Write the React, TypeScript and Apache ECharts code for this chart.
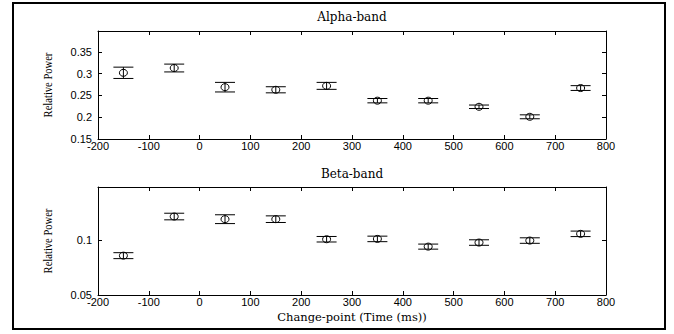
import React, { useEffect, useRef } from "react";
import * as echarts from "echarts";

const timePoints = [-150, -50, 50, 150, 250, 350, 450, 550, 650, 750];
const alphaMean = [0.302, 0.313, 0.269, 0.263, 0.272, 0.238, 0.238, 0.224, 0.201, 0.267];
const alphaErr = [0.013, 0.009, 0.011, 0.007, 0.008, 0.005, 0.005, 0.004, 0.0045, 0.0055];
const betaMean = [0.0857, 0.1212, 0.1188, 0.1188, 0.1006, 0.1009, 0.0939, 0.0976, 0.0994, 0.1055];
const betaErr = [0.0027, 0.003, 0.004, 0.003, 0.0025, 0.0025, 0.0023, 0.0025, 0.0025, 0.0025];
const alphaTicks = [0.15, 0.2, 0.25, 0.3, 0.35];
const betaTicks = [0.05, 0.1];
const xTicks = [-200, -100, 0, 100, 200, 300, 400, 500, 600, 700, 800];

const SANS = "'Liberation Sans', Arial, sans-serif";
const SERIF = "'DejaVu Serif', serif";
const TSERIF = "'Liberation Serif', 'Times New Roman', serif";

function errRender(params: any, api: any) {
  const x = api.value(0);
  const m = api.value(1);
  const e = api.value(2);
  const c = api.coord([x, m]);
  const hi = api.coord([x, m + e]);
  const lo = api.coord([x, m - e]);
  const hw = 10;
  const st = { stroke: "#000", lineWidth: 1, fill: null };
  return {
    type: "group",
    children: [
      { type: "line", shape: { x1: c[0], y1: hi[1], x2: c[0], y2: lo[1] }, style: st },
      { type: "line", shape: { x1: c[0] - hw, y1: hi[1], x2: c[0] + hw, y2: hi[1] }, style: st },
      { type: "line", shape: { x1: c[0] - hw, y1: lo[1], x2: c[0] + hw, y2: lo[1] }, style: st },
      { type: "ellipse", shape: { cx: c[0], cy: c[1], rx: 4, ry: 3.5 }, style: { stroke: "#000", lineWidth: 1, fill: "none" } },
    ],
  };
}

export default function App() {
  const ref = useRef<HTMLDivElement>(null);
  useEffect(() => {
    if (!ref.current) return;
    const chart = echarts.init(ref.current, undefined, { renderer: "svg" });
    const fmt = (list: number[]) => (v: number) => {
      const r = parseFloat(v.toFixed(3));
      return list.some((t) => Math.abs(t - r) < 1e-6) ? String(r) : "";
    };
    const grids = [
      { left: 98, top: 31, width: 508, height: 108 },
      { left: 98, top: 187, width: 508, height: 108 },
    ];
    const xBase = (gi: number, pos: string) => ({
      type: "value",
      gridIndex: gi,
      position: pos,
      min: -200,
      max: 800,
      interval: 100,
      axisLine: { show: true, onZero: false, lineStyle: { color: "#000", width: 1 } },
      axisTick: { show: true, inside: true, length: 4, lineStyle: { color: "#000" } },
      axisLabel: {
        show: pos === "bottom",
        margin: 1,
        color: "#000",
        fontFamily: SANS,
        fontSize: 11,
        formatter: (v: number) => (xTicks.includes(v) ? String(v) : ""),
      },
      splitLine: { show: false },
    });
    const yBase = (gi: number, pos: string, min: number, max: number, ticks: number[]) => ({
      type: "value",
      gridIndex: gi,
      position: pos,
      min,
      max,
      interval: 0.05,
      axisLine: { show: true, onZero: false, lineStyle: { color: "#000", width: 1 } },
      axisTick: { show: true, inside: true, length: 4, lineStyle: { color: "#000" } },
      axisLabel: {
        show: pos === "left",
        margin: 6,
        color: "#000",
        fontFamily: SANS,
        fontSize: 11,
        formatter: fmt(ticks),
      },
      splitLine: { show: false },
    });
    const titleStyle = { fontFamily: SERIF, fontSize: 12, fontWeight: "normal", color: "#000" };
    chart.setOption({
      animation: false,
      backgroundColor: "#fff",
      grid: grids,
      title: [
        { text: "Alpha-band", left: 352, top: 11, padding: 0, textAlign: "center", textStyle: titleStyle },
        { text: "Beta-band", left: 352, top: 168, padding: 0, textAlign: "center", textStyle: titleStyle },
      ],
      xAxis: [xBase(0, "bottom"), xBase(0, "top"), xBase(1, "bottom"), xBase(1, "top")],
      yAxis: [
        yBase(0, "left", 0.15, 0.398, alphaTicks),
        yBase(0, "right", 0.15, 0.398, alphaTicks),
        yBase(1, "left", 0.05, 0.148, betaTicks),
        yBase(1, "right", 0.05, 0.148, betaTicks),
      ],
      graphic: [
        { type: "rect", shape: { x: 13, y: 3, width: 652, height: 326 }, style: { fill: "none", stroke: "#000", lineWidth: 2 } },
        { type: "text", x: 48, y: 85, rotation: Math.PI / 2, scaleX: 0.88, style: { text: "Relative Power", fontFamily: TSERIF, fontSize: 12, fill: "#000", textAlign: "center", textVerticalAlign: "middle" } },
        { type: "text", x: 48, y: 241, rotation: Math.PI / 2, scaleX: 0.88, style: { text: "Relative Power", fontFamily: TSERIF, fontSize: 12, fill: "#000", textAlign: "center", textVerticalAlign: "middle" } },
        { type: "text", x: 352, y: 317, style: { text: "Change-point (Time (ms))", fontFamily: SERIF, fontSize: 11.5, fill: "#000", textAlign: "center", textVerticalAlign: "middle" } },
      ],
      series: [
        {
          type: "custom",
          xAxisIndex: 0,
          yAxisIndex: 0,
          renderItem: errRender,
          data: timePoints.map((t, i) => [t, alphaMean[i], alphaErr[i]]),
          encode: { x: 0, y: 1 },
        },
        {
          type: "custom",
          xAxisIndex: 2,
          yAxisIndex: 2,
          renderItem: errRender,
          data: timePoints.map((t, i) => [t, betaMean[i], betaErr[i]]),
          encode: { x: 0, y: 1 },
        },
      ],
    });
    return () => chart.dispose();
  }, []);
  return <div ref={ref} style={{ position: "absolute", left: 0, top: 0, width: 674, height: 334 }} />;
}
